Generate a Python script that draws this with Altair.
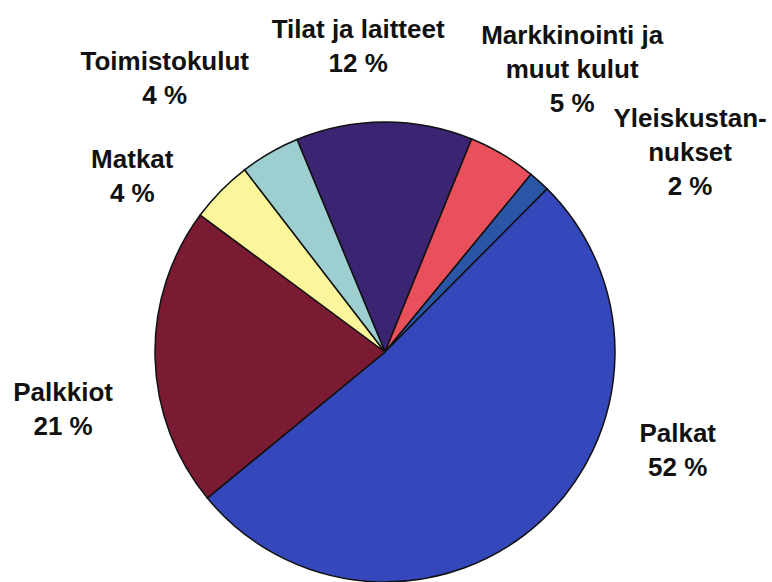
import math
import altair as alt
import pandas as pd

# ---- data (clockwise from the top) ----
categories = ["Tilat ja laitteet", "Markkinointi ja muut kulut", "Yleiskustannukset",
              "Palkat", "Palkkiot", "Matkat", "Toimistokulut"]
label_names = ["Tilat ja laitteet", "Markkinointi ja\nmuut kulut", "Yleiskustan-\nnukset",
               "Palkat", "Palkkiot", "Matkat", "Toimistokulut"]
values = [12.4, 4.8, 1.5, 51.6, 21.1, 4.4, 4.2]
pct_labels = ["12 %", "5 %", "2 %", "52 %", "21 %", "4 %", "4 %"]
colors = ["#3b2472", "#e9505c", "#2b56a6", "#3548bb", "#7a1b33", "#fbf59b", "#9ecfd0"]

df = pd.DataFrame({
    "category": categories,
    "value": values,
    "label": [n + "\n" + p for n, p in zip(label_names, pct_labels)],
    "order": list(range(len(categories))),
})

# ---- layout ----
CX, CY, R = 385, 352, 230
start = math.radians(-22.5)
theta_scale = alt.Scale(domain=[0, sum(values)], range=[start, start + 2 * math.pi])
color_scale = alt.Scale(domain=categories, range=colors)
LABEL_R = 270
nudges = {
    "Tilat ja laitteet": (-26, -44),
    "Markkinointi ja muut kulut": (49, -76),
    "Yleiskustannukset": (124, -25),
    "Palkat": (111, -110),
    "Palkkiot": (-52, 42),
    "Matkat": (-60, 5),
    "Toimistokulut": (-85, -48),
}

base = alt.Chart(df)

pie = base.mark_arc(outerRadius=R, stroke="#111111", strokeWidth=1.5).encode(
    theta=alt.Theta("value:Q", stack=True, scale=theta_scale),
    color=alt.Color("category:N", scale=color_scale, legend=None),
    order=alt.Order("order:Q"),
    x=alt.value(CX),
    y=alt.value(CY),
)

layers = [pie]
for cat in categories:
    dx, dy = nudges[cat]
    t = (
        base.transform_window(cum="sum(value)", sort=[alt.SortField("order")])
        .transform_calculate(mid="datum.cum - datum.value / 2")
        .transform_filter(alt.datum.category == cat)
        .mark_text(
            radius=LABEL_R, dx=dx, dy=dy, lineBreak="\n", lineHeight=34,
            font="Liberation Sans", fontWeight="bold", fontSize=26,
            align="center", baseline="alphabetic", color="#111111",
        )
        .encode(
            theta=alt.Theta("mid:Q", stack=None, scale=theta_scale),
            text="label:N",
            x=alt.value(CX),
            y=alt.value(CY),
        )
    )
    layers.append(t)

chart = (
    alt.layer(*layers)
    .properties(width=772, height=582, autosize=alt.AutoSizeParams(type="none"), padding=0,
                background="white")
    .configure_view(stroke=None)
)

chart.save("out.html", embed_options={"renderer": "svg", "actions": False})
